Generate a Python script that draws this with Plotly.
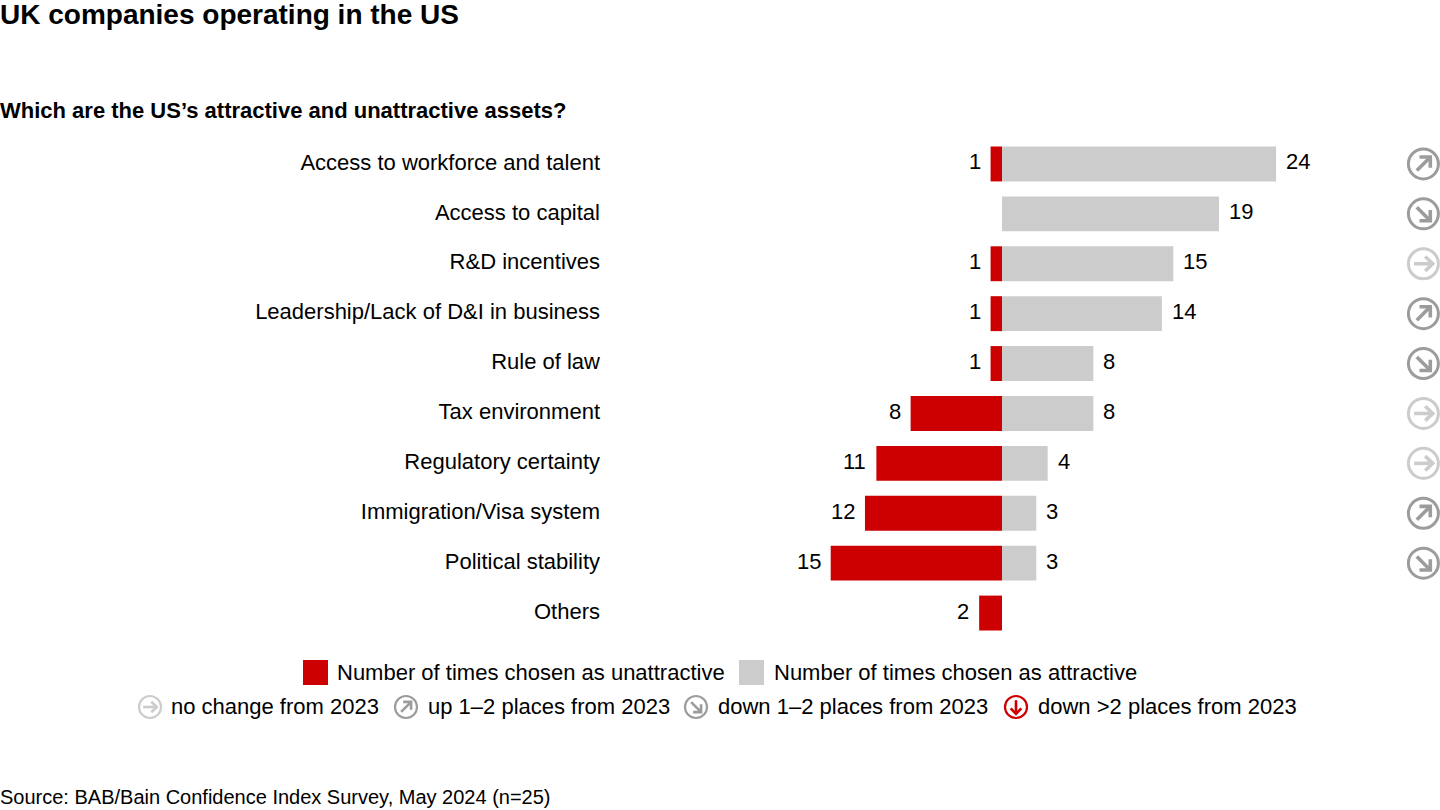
import plotly.graph_objects as go

# Data
categories = ["Access to workforce and talent", "Access to capital", "R&D incentives",
              "Leadership/Lack of D&I in business", "Rule of law", "Tax environment",
              "Regulatory certainty", "Immigration/Visa system", "Political stability", "Others"]
unattractive = [1, None, 1, 1, 1, 8, 11, 12, 15, 2]
attractive = [24, 19, 15, 14, 8, 8, 4, 3, 3, None]
trend = ["up", "down", "same", "up", "down", "same", "same", "up", "down", None]

RED = "#cc0000"
GREY = "#cccccc"
ICON_GREY = "#9c9c9c"
FONT = "Liberation Sans"
W, H = 1440, 810
SIZE = 22

# plot area in page pixels
L, R, T, B = 606, 1440, 139, 638


def px(x):
    return (x - L) / (R - L)


def py(y):
    return (B - y) / (B - T)


annotations = []
shapes = []


def add_text(x, y, text, size=SIZE, bold=False):
    annotations.append(dict(text=f"<b>{text}</b>" if bold else text, x=px(x - 2), y=py(y), xref="paper", yref="paper",
                            xanchor="left", yanchor="middle", showarrow=False,
                            font=dict(size=size, color="black", family=FONT)))


# arrow shaft and head for each icon kind, in units of the ring radius
ARROWS = {
    "same": ["M-0.62 0 L0.62 0", "M0.12 -0.48 L0.62 0 L0.12 0.48"],
    "up": ["M-0.44 -0.44 L0.42 0.42", "M-0.26 0.46 L0.46 0.46 L0.46 -0.26"],
    "down": ["M-0.44 0.44 L0.42 -0.42", "M-0.26 -0.46 L0.46 -0.46 L0.46 0.26"],
    "bigdown": ["M0 0.62 L0 -0.62", "M-0.48 -0.12 L0 -0.62 L0.48 -0.12"],
}
ICON_COLORS = {"same": GREY, "up": ICON_GREY, "down": ICON_GREY, "bigdown": RED}


def scale_path(path, r):
    out = []
    for tok in path.replace("M", "M ").replace("L", "L ").split():
        out.append(tok if tok in "ML" else f"{float(tok) * r:.2f}")
    return " ".join(out)


def add_icon(kind, xa, ya, xref, yref, r, w):
    color = ICON_COLORS[kind]
    base = dict(xref=xref, yref=yref, xsizemode="pixel", ysizemode="pixel", xanchor=xa, yanchor=ya)
    shapes.append(dict(type="circle", x0=-r, x1=r, y0=-r, y1=r, line=dict(color=color, width=w), **base))
    for p in ARROWS[kind]:
        shapes.append(dict(type="path", path=scale_path(p, r), line=dict(color=color, width=w * 1.2), **base))


fig = go.Figure()
fig.add_trace(go.Bar(y=categories, x=[None if v is None else -v for v in unattractive], orientation="h",
                     marker=dict(color=RED, line=dict(width=0)), width=0.7, name="Number of times chosen as unattractive"))
fig.add_trace(go.Bar(y=categories, x=attractive, orientation="h",
                     marker=dict(color=GREY, line=dict(width=0)), width=0.7, name="Number of times chosen as attractive"))

# value labels
for cat, v in zip(categories, unattractive):
    if v is not None:
        annotations.append(dict(x=-v, y=cat, text=str(v), showarrow=False, xanchor="right", xshift=-8, yshift=2,
                                font=dict(size=SIZE, color="black", family=FONT)))
for cat, v in zip(categories, attractive):
    if v is not None:
        annotations.append(dict(x=v, y=cat, text=str(v), showarrow=False, xanchor="left", xshift=8, yshift=2,
                                font=dict(size=SIZE, color="black", family=FONT)))

# rank change icons next to the rows
ICON_X = 36.9
for cat, t in zip(categories, trend):
    if t is not None:
        add_icon(t, ICON_X, cat, "x", "y", 15, 3)

add_text(0, 14, "UK companies operating in the US", size=28, bold=True)
add_text(0, 110, "Which are the US’s attractive and unattractive assets?", size=22, bold=True)
add_text(0, 797, "Source: BAB/Bain Confidence Index Survey, May 2024 (n=25)", size=20)

# legend, first row
shapes.append(dict(type="rect", xref="paper", yref="paper", x0=px(303), x1=px(328), y0=py(685), y1=py(660),
                   fillcolor=RED, line=dict(width=0)))
shapes.append(dict(type="rect", xref="paper", yref="paper", x0=px(739), x1=px(764), y0=py(685), y1=py(660),
                   fillcolor=GREY, line=dict(width=0)))
add_text(337, 672, "Number of times chosen as unattractive")
add_text(774, 672, "Number of times chosen as attractive")

# legend, second row
for kind, ix, tx, label in [("same", 150, 171, "no change from 2023"),
                            ("up", 406, 428, "up 1–2 places from 2023"),
                            ("down", 696, 718, "down 1–2 places from 2023"),
                            ("bigdown", 1016, 1038, "down >2 places from 2023")]:
    add_icon(kind, px(ix), py(707), "paper", "paper", 11, 2.2)
    add_text(tx, 706, label)

fig.update_layout(
    width=W, height=H,
    autosize=False,
    barmode="overlay",
    showlegend=False,
    plot_bgcolor="white",
    paper_bgcolor="white",
    margin=dict(l=L, r=W - R, t=T, b=H - B, pad=0),
    font=dict(family=FONT, size=SIZE, color="black"),
    xaxis=dict(range=[(L - 1002) / 11.42, (R - 1002) / 11.42], visible=False, showgrid=False, zeroline=False),
    yaxis=dict(categoryorder="array", categoryarray=categories, autorange="reversed", showgrid=False,
               zeroline=False, showline=False, ticks="", ticklabelstandoff=5, ticklabelshift=2,
               tickfont=dict(size=SIZE, color="black", family=FONT)),
    annotations=annotations,
    shapes=shapes,
)

# the browser's default body margin would push the figure off the page
fig.write_html("out.html", config=dict(displayModeBar=False),
               post_script="document.body.style.margin='0';document.documentElement.style.overflow='hidden';")
